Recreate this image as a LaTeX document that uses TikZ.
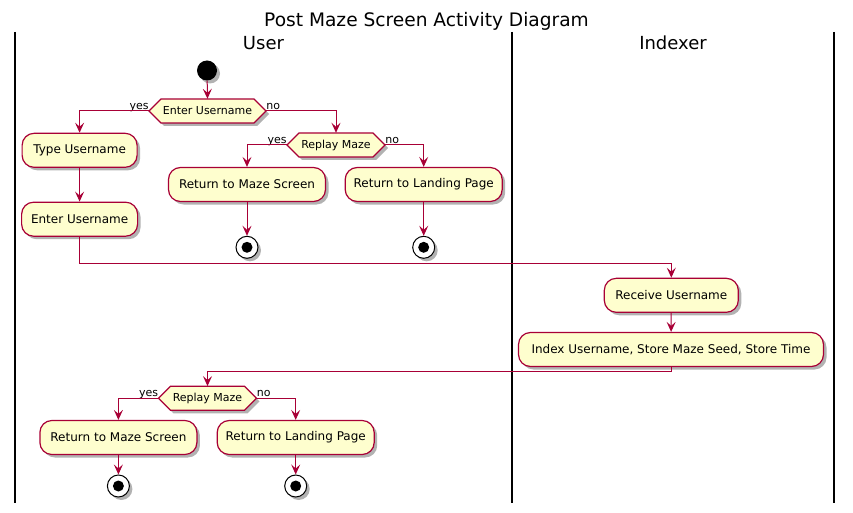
\documentclass[tikz,border=0pt]{standalone}
\usepackage{fontspec}
\setmainfont{DejaVu Sans}
\usetikzlibrary{arrows.meta,shadows}
\definecolor{pfill}{HTML}{FEFECE}
\definecolor{pline}{HTML}{A80036}
\tikzset{
  shad/.style={drop shadow={shadow xshift=3pt,shadow yshift=-3pt,opacity=0.3,fill=black}},
  act/.style={rectangle,rounded corners=12pt,draw=pline,line width=1.2pt,fill=pfill,
    minimum height=34pt,inner sep=0pt,font=\fontsize{12}{14}\selectfont,shad},
  hexlabel/.style={inner sep=0pt,minimum height=24pt,font=\fontsize{11}{13}\selectfont},
  hexshape/.style={draw=pline,line width=1.2pt,fill=pfill,shad},
  arr/.style={draw=pline,line width=1pt,-{Stealth[length=10pt,width=9pt,inset=4pt]}},
  stopc/.style={circle,draw=black,line width=1pt,fill=white,minimum size=22pt,inner sep=0pt,shad,
    path picture={\fill[black] (path picture bounding box.center) circle (5.5pt);}},
  startc/.style={circle,fill=black,minimum size=20pt,inner sep=0pt,shad},
  lane/.style={line width=1.5pt,black},
  lbl/.style={font=\fontsize{11}{13}\selectfont,inner sep=0pt},
  head/.style={font=\fontsize{18}{22}\selectfont,inner sep=0pt,anchor=base}
}
\newcommand\hexnode[5]{%
  \path[hexshape] ({#2-#4/2},#3) -- ({#2-#4/2+12},{#3-12}) -- ({#2+#4/2-12},{#3-12})
    -- ({#2+#4/2},#3) -- ({#2+#4/2-12},{#3+12}) -- ({#2-#4/2+12},{#3+12}) -- cycle;
  \node[hexlabel,minimum width=#4pt] (#1) at (#2,#3) {#5};}
\begin{document}
\begin{tikzpicture}[x=1pt,y=-1pt]
\useasboundingbox (0,0) rectangle (853,513);
% title and lanes
\node[head,font=\fontsize{18.6}{22}\selectfont] (title) at (426.5,26.7) {Post Maze Screen Activity Diagram};
\node[head] (huser) at (263.5,50) {User};
\node[head] (hidx) at (673,50) {Indexer};
\draw[lane] (15,32) -- (15,503);
\draw[lane] (512,32) -- (512,503);
\draw[lane] (834,32) -- (834,503);
% nodes
\node[startc] (start) at (207,70.5) {};
\hexnode{d1}{207.5}{111}{117}{Enter Username}
\node[act,minimum width=115pt] (t1) at (79.6,150.3) {Type Username};
\node[act,minimum width=116pt] (e1) at (79.6,219.2) {Enter Username};
\hexnode{d2}{336}{145}{98}{Replay Maze}
\node[act,minimum width=157pt] (rms) at (247,184.5) {Return to Maze Screen};
\node[act,minimum width=157pt] (rlp) at (423.7,184.5) {Return to Landing Page};
\node[stopc] (s1) at (247,247.3) {};
\node[stopc] (s2) at (423.7,247.3) {};
\node[act,minimum width=134pt] (recv) at (671.3,295.3) {Receive Username};
\node[act,minimum width=305pt] (idx) at (671,349.5) {Index Username, Store Maze Seed, Store Time};
\hexnode{d3}{207.5}{398.3}{98}{Replay Maze}
\node[act,minimum width=157pt] (rms2) at (118.4,437.5) {Return to Maze Screen};
\node[act,minimum width=157pt] (rlp2) at (295.7,437.5) {Return to Landing Page};
\node[stopc] (s3) at (118.4,486) {};
\node[stopc] (s4) at (295.7,486) {};
% branch labels
\node[lbl,anchor=base east] (y1) at ([yshift=1.5pt]d1.west) {yes};
\node[lbl,anchor=base west] (n1) at ([yshift=1.5pt]d1.east) {no};
\node[lbl,anchor=base east] (y2) at ([yshift=1.5pt]d2.west) {yes};
\node[lbl,anchor=base west] (n2) at ([yshift=1.5pt]d2.east) {no};
\node[lbl,anchor=base east] (y3) at ([yshift=1.5pt]d3.west) {yes};
\node[lbl,anchor=base west] (n3) at ([yshift=1.5pt]d3.east) {no};
% connectors
\draw[arr] (start) -- (d1.north);
\draw[arr] (d1.west) -| (t1.north);
\draw[arr] (d1.east) -| (d2.north);
\draw[arr] (t1) -- (e1);
\draw[arr] (d2.west) -| (rms.north);
\draw[arr] (d2.east) -| (rlp.north);
\draw[arr] (rms) -- (s1);
\draw[arr] (rlp) -- (s2);
\coordinate (j1) at (79.6,263.3);
\draw[arr] (e1.south) -- (j1) -| (recv.north);
\draw[arr] (recv) -- (idx);
\coordinate (j2) at (671,371.3);
\draw[arr] (idx.south) -- (j2) -| (d3.north);
\draw[arr] (d3.west) -| (rms2.north);
\draw[arr] (d3.east) -| (rlp2.north);
\draw[arr] (rms2) -- (s3);
\draw[arr] (rlp2) -- (s4);
\end{tikzpicture}
\end{document}
